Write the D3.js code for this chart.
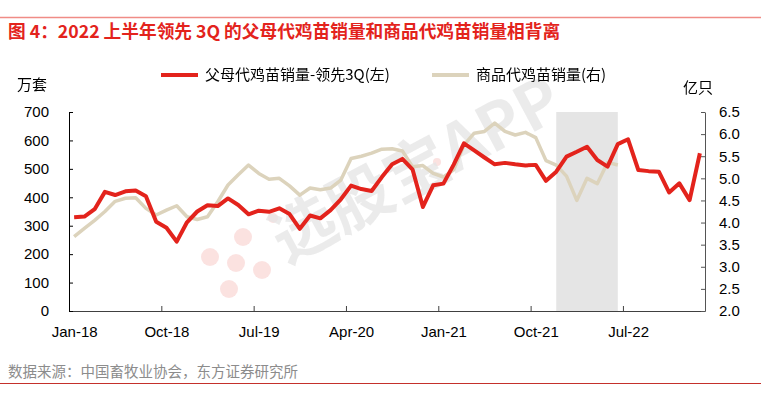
<!DOCTYPE html>
<html>
<head>
<meta charset="utf-8">
<script src="https://cdn.jsdelivr.net/npm/d3@7"></script>
<style>
  body { margin: 0; background: #fff; }
  text { font-family: "Liberation Sans", Arial, "Noto Sans CJK SC", sans-serif; }
  .cjk { font-family: "Noto Sans CJK SC", "Liberation Sans", sans-serif; }
</style>
</head>
<body>
<div class="container"></div>
<script>
// categories: one per month, Jan-18 .. Feb-23
var months = d3.timeMonths(new Date(2018, 0, 1), new Date(2023, 2, 1));
var tickLabels = ["Jan-18", "Oct-18", "Jul-19", "Apr-20", "Jan-21", "Oct-21", "Jul-22"];
var tickEvery = 9;

// 父母代鸡苗销量-领先3Q (万套), left axis
var parentSales = [330, 332, 358, 419, 408, 421, 424, 404, 314, 293,
                   244, 312, 350, 372, 369, 396, 373, 340, 353, 349,
                   361, 341, 289, 336, 326, 355, 393, 441, 429, 422,
                   471, 516, 535, 497, 366, 442, 448, 515, 590, 565,
                   540, 516, 521, 516, 512, 514, 458, 490, 543, 560,
                   578, 531, 508, 587, 604, 496, 492, 490, 417, 449,
                   390, 555];

// 商品代鸡苗销量 (亿只), right axis, ends Jun-22
var chickSales = [3.68, 3.87, 4.05, 4.25, 4.48, 4.55, 4.56, 4.32, 4.17, 4.28,
                  4.38, 4.13, 4.07, 4.13, 4.47, 4.85, 5.08, 5.30, 5.11, 4.98,
                  5.00, 4.83, 4.62, 4.78, 4.74, 4.78, 4.96, 5.45, 5.50, 5.57,
                  5.66, 5.67, 5.62, 5.26, 5.29, 5.11, 5.03, 5.19, 5.75, 6.02,
                  6.06, 6.25, 6.06, 5.98, 6.04, 5.92, 5.40, 5.30, 5.05, 4.50,
                  5.00, 4.88, 5.36, 5.30];

var leftTicks = [0, 100, 200, 300, 400, 500, 600, 700];
var rightTicks = [2.0, 2.5, 3.0, 3.5, 4.0, 4.5, 5.0, 5.5, 6.0, 6.5];

// shaded period: 2022 上半年
var shadeFrom = 47, shadeTo = 53;

var W = 761, H = 394;
var red = "#e3231c", beige = "#dcd3bc";

//Makes the stage
function makeStage(w, h) {
    var stage = d3.select(".container")
      .insert("svg")
      .attr("width", w)
      .attr("height", h)
      .style("display", "block")
      .style("background-color", "#fff");
    return stage;
}

var stage = makeStage(W, H);

var x = d3.scaleLinear().domain([0, months.length]).range([69, 705]);
var yL = d3.scaleLinear().domain([0, 700]).range([311, 112]);
var yR = d3.scaleLinear().domain([2, 6.5]).range([311, 112]);
function cx(i) { return x(i + 0.5); }

// title + frame lines
stage.append("line").attr("x1", 0).attr("x2", W).attr("y1", 17.5).attr("y2", 17.5)
  .attr("stroke", "#f08c86").attr("stroke-width", 1.5);
stage.append("text").attr("class", "cjk")
  .attr("x", 8).attr("y", 38)
  .attr("font-size", 17.7).attr("font-weight", "bold").attr("fill", "#e3231c")
  .text("图 4：2022 上半年领先 3Q 的父母代鸡苗销量和商品代鸡苗销量相背离");
stage.append("line").attr("x1", 0).attr("x2", W).attr("y1", 383.5).attr("y2", 383.5)
  .attr("stroke", "#c4302b").attr("stroke-width", 1);
stage.append("text").attr("class", "cjk")
  .attr("x", 8).attr("y", 377)
  .attr("font-size", 14.5).attr("fill", "#8c8c8c")
  .text("数据来源：中国畜牧业协会，东方证券研究所");

// shaded band
stage.append("rect")
  .attr("x", cx(shadeFrom)).attr("y", yL(700))
  .attr("width", cx(shadeTo) - cx(shadeFrom))
  .attr("height", yL(0) - yL(700))
  .attr("fill", "#e5e5e5");

// watermark
var wm = stage.append("g").attr("opacity", 0.55);
var dots = [[210, 257, 9], [243, 237, 9], [236, 263, 9], [262, 270, 9], [229, 289, 9], [273, 218, 5], [437, 162, 4]];
wm.selectAll("circle").data(dots).enter().append("circle")
  .attr("cx", function(d) { return d[0]; })
  .attr("cy", function(d) { return d[1]; })
  .attr("r", function(d) { return d[2]; })
  .attr("fill", "#f4a7a4").attr("opacity", 0.6);
wm.append("text").attr("class", "cjk")
  .attr("transform", "translate(286,264) rotate(-28)")
  .attr("font-size", 64).attr("font-weight", "bold").attr("fill", "#d0d0d0")
  .attr("opacity", 0.75)
  .text("选股宝APP");

// axes
var xAxis = d3.axisBottom(x)
  .tickValues(d3.range(0, tickLabels.length).map(function(k) { return k * tickEvery; }))
  .tickSize(-5).tickSizeOuter(0).tickPadding(15)
  .tickFormat(function(d, i) { return tickLabels[i]; });
var gx = stage.append("g").attr("transform", "translate(0,311)").call(xAxis);
gx.selectAll("text").attr("dx", x(0.5) - x(0)).attr("font-size", 15).attr("fill", "#000");
gx.select(".domain").attr("stroke", "#404040");
gx.selectAll(".tick line").attr("stroke", "#404040");

var gl = stage.append("g").attr("transform", "translate(69,0)")
  .call(d3.axisLeft(yL).tickValues(leftTicks).tickSize(-4).tickSizeOuter(0).tickPadding(20));
gl.selectAll("text").attr("font-size", 15).attr("fill", "#000");

var gr = stage.append("g").attr("transform", "translate(705,0)")
  .call(d3.axisRight(yR).tickValues(rightTicks).tickSize(-4).tickSizeOuter(0).tickPadding(14)
    .tickFormat(d3.format(".1f")));
gr.selectAll("text").attr("font-size", 15).attr("fill", "#000");
gr.select(".domain").attr("stroke", "#555");
gr.selectAll(".tick line").attr("stroke", "#555");
[gx, gl, gr].forEach(function(g) { g.attr("font-family", null); });

// units
stage.append("text").attr("class", "cjk").attr("x", 17).attr("y", 90)
  .attr("font-size", 15).attr("fill", "#000").text("万套");
stage.append("text").attr("class", "cjk").attr("x", 683).attr("y", 93)
  .attr("font-size", 15).attr("fill", "#000").text("亿只");

// lines
var lineL = d3.line().x(function(d, i) { return cx(i); }).y(function(d) { return yL(d); });
var lineR = d3.line().x(function(d, i) { return cx(i); }).y(function(d) { return yR(d); });

stage.append("path").datum(chickSales)
  .attr("d", lineR).attr("fill", "none")
  .attr("stroke", beige).attr("stroke-width", 3.5).attr("stroke-linejoin", "round");
stage.append("path").datum(parentSales)
  .attr("d", lineL).attr("fill", "none")
  .attr("stroke", red).attr("stroke-width", 4).attr("stroke-linejoin", "round");

// legend
function drawLegend(x0, color, label) {
    stage.append("line").attr("x1", x0).attr("x2", x0 + 37).attr("y1", 75).attr("y2", 75)
      .attr("stroke", color).attr("stroke-width", 4);
    stage.append("text").attr("class", "cjk").attr("x", x0 + 44).attr("y", 80)
      .attr("font-size", 15).attr("fill", "#000").text(label);
}
drawLegend(161, red, "父母代鸡苗销量-领先3Q(左)");
drawLegend(432, beige, "商品代鸡苗销量(右)");
</script>
</body>
</html>
